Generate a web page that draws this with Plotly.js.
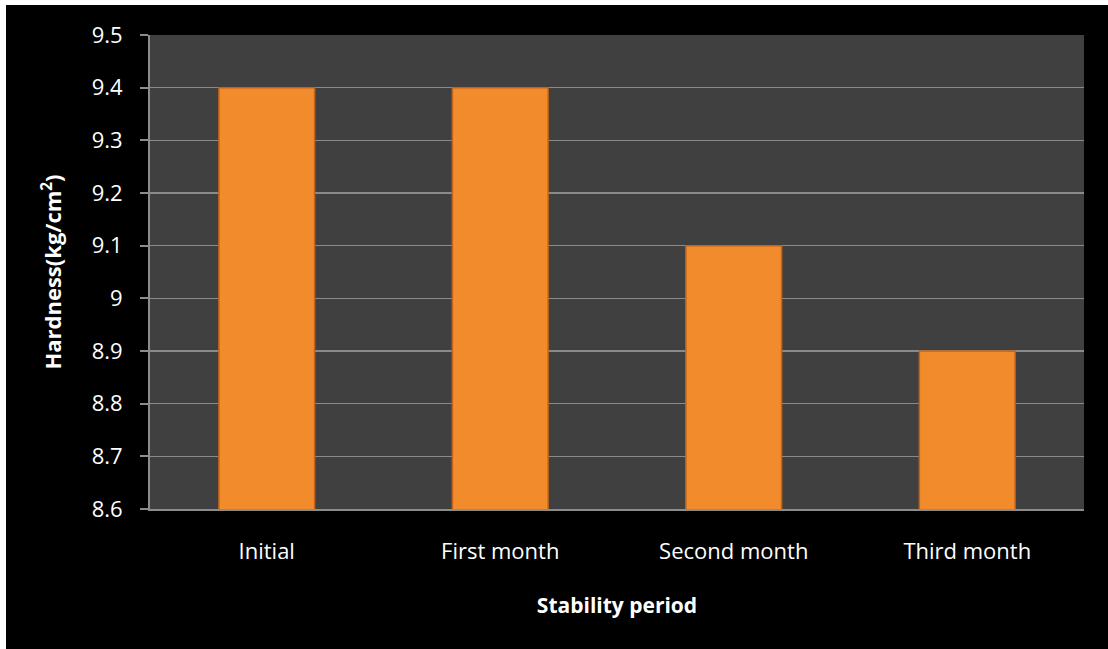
<!DOCTYPE html>
<html>
<head>
<meta charset="utf-8">
<script src="https://cdn.plot.ly/plotly-3.0.1.min.js"></script>
<style>
html,body{margin:0;padding:0;background:#ffffff;}
#chart{position:absolute;left:6px;top:5px;width:1102px;height:644px;}
</style>
</head>
<body>
<div id="chart"></div>
<script>
const categories = ["Initial", "First month", "Second month", "Third month"];
const hardness = [9.4, 9.4, 9.1, 8.9];
const yTicks = [8.6, 8.7, 8.8, 8.9, 9.0, 9.1, 9.2, 9.3, 9.4, 9.5];
const yTickText = ["8.6", "8.7", "8.8", "8.9", "9", "9.1", "9.2", "9.3", "9.4", "9.5"];

const font = "'Open Sans', 'Liberation Sans', sans-serif";

const data = [{
  type: "bar",
  x: categories,
  y: hardness,
  marker: {color: "#f28b2c", line: {color: "#c0641c", width: 1.5}},
  hoverinfo: "x+y"
}];

const layout = {
  width: 1102,
  height: 644,
  paper_bgcolor: "#000000",
  plot_bgcolor: "#404040",
  margin: {l: 144, r: 24, t: 30, b: 140},
  bargap: 0.59,
  showlegend: false,
  font: {family: font, color: "#ffffff", size: 22},
  xaxis: {
    type: "category",
    automargin: false,
    showgrid: false,
    showline: true,
    linecolor: "#8c8c8c",
    linewidth: 2,
    ticks: "",
    tickfont: {family: font, size: 22, color: "#ffffff"},
    ticklabelstandoff: 22,
    title: {text: "<b>Stability period</b>", font: {family: font, size: 21, color: "#ffffff"}, standoff: 34}
  },
  yaxis: {
    automargin: false,
    range: [8.6, 9.5],
    tickvals: yTicks,
    ticktext: yTickText,
    showgrid: true,
    gridcolor: "#8a8a8a",
    gridwidth: 1.5,
    zeroline: false,
    showline: true,
    linecolor: "#8c8c8c",
    linewidth: 2,
    ticks: "outside",
    ticklen: 8,
    tickcolor: "#8c8c8c",
    tickwidth: 2,
    ticklabelstandoff: 13,
    tickfont: {family: font, size: 22, color: "#ffffff"},
    title: {text: "<b>Hardness(kg/cm<sup>2</sup>)</b>", font: {family: font, size: 22, color: "#ffffff"}, standoff: 24}
  }
};

Plotly.newPlot("chart", data, layout, {displayModeBar: false, staticPlot: true});
</script>
</body>
</html>
